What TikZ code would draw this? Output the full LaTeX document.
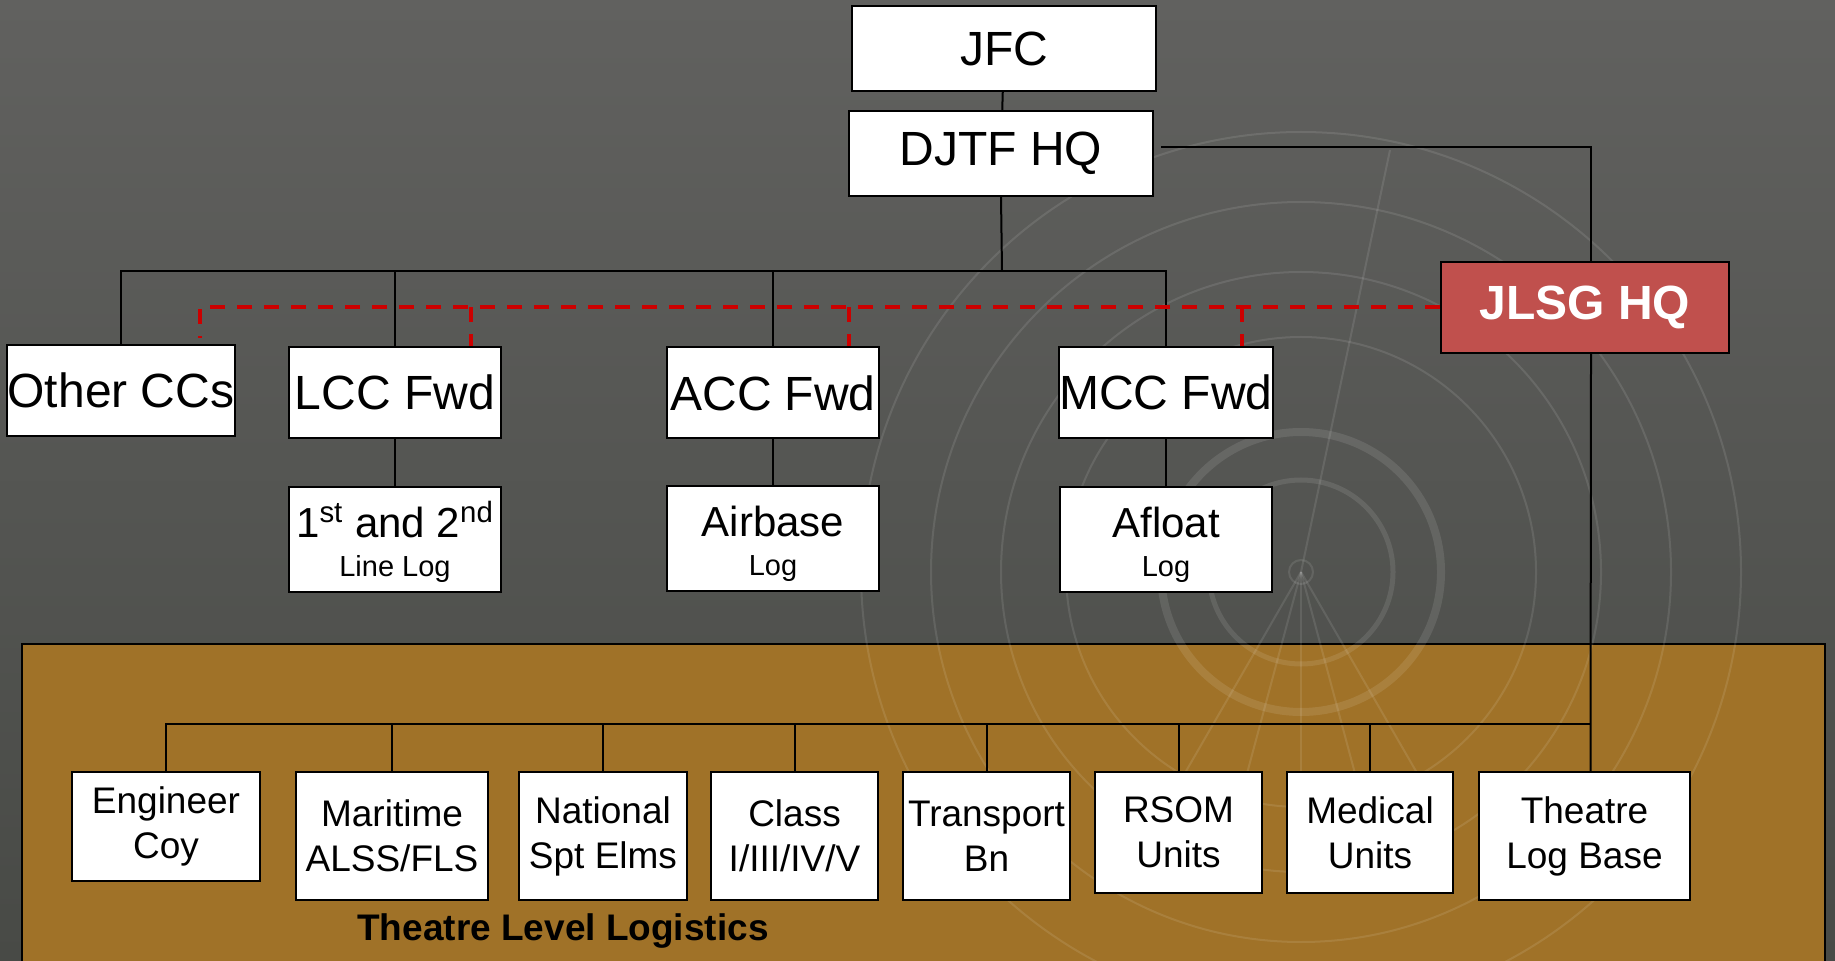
\documentclass[tikz,border=0pt]{standalone}
\usepackage{fontspec}
\setmainfont{Liberation Sans}
\definecolor{jlsgred}{RGB}{192,80,77}
\definecolor{dashred}{RGB}{204,0,0}
\definecolor{panelbrown}{RGB}{160,114,40}
\definecolor{bgtop}{RGB}{97,97,95}
\definecolor{bgbottom}{RGB}{72,74,70}
\usetikzlibrary{positioning,calc}

\begin{document}
\begin{tikzpicture}[x=0.5pt,y=-0.5pt,
  cmdbox/.style={draw=black,fill=white,line width=1pt,inner sep=0pt,align=center,
    minimum width=#1,minimum height=45.5pt,font=\fontsize{24}{28}\selectfont},
  cmdbox/.default=106pt,
  logbox/.style={draw=black,fill=white,line width=1pt,inner sep=0pt,align=center,
    minimum width=106pt,minimum height=52.5pt,font=\fontsize{21}{19.5}\selectfont},
  unitbox/.style={draw=black,fill=white,line width=1pt,inner sep=0pt,align=center,
    minimum width=#1,minimum height=64pt,font=\fontsize{18.5}{22.5}\selectfont},
  orgline/.style={draw=black,line width=1pt},
  dashline/.style={draw=dashred,line width=2pt,dash pattern=on 7.5pt off 6pt}
]
  \useasboundingbox (0,0) rectangle (1835,961);
  \shade[top color=bgtop,bottom color=bgbottom] (0,0) rectangle (1835,961);
  \draw[line width=1pt,fill=panelbrown] (22,644) rectangle (1825,990);

  \begin{scope}[draw=white,opacity=0.1]
    \draw[line width=4pt] (1301,572) circle (140);
    \draw[line width=2.5pt] (1301,572) circle (92);
    \draw[line width=1pt] (1301,572) circle (12);
    \foreach \r in {235,300,370,440} \draw[line width=1pt] (1301,572) circle (\r);
    \foreach \a in {60,75,90,105,120} \draw[line width=1pt] (1301,572) -- ++(\a:300);
    \draw[line width=1pt] (1301,572) -- (1390,150);
  \end{scope}

  \node[cmdbox=152pt,minimum height=42.5pt] (jfc) at (1004,48.5) {JFC};
  \node[cmdbox=152pt,minimum height=42.5pt] (djtf) at (1001,153.5) {DJTF HQ};
  \node[cmdbox=144pt,fill=jlsgred,text=white,font=\fontsize{24}{28}\selectfont\bfseries] (jlsg) at (1585,307.5) {JLSG HQ};
  \node[cmdbox=114pt] (other) at (121,390.5) {Other CCs};
  \node[cmdbox] (lcc) at (395,392.5) {LCC Fwd};
  \node[cmdbox] (acc) at (773,393) {ACC Fwd};
  \node[cmdbox] (mcc) at (1166,392.5) {MCC Fwd};
  \node[logbox] (linelog) at (395,539.5) {\rule{0pt}{21pt}1\textsuperscript{st} and 2\textsuperscript{nd}\\{\fontsize{14.5}{17}\selectfont Line Log}};
  \node[logbox] (airbase) at (773,538.5) {\rule{0pt}{21pt}Airbase\\{\fontsize{14.5}{17}\selectfont Log}};
  \node[logbox] (afloat) at (1166,539.5) {\rule{0pt}{21pt}Afloat\\{\fontsize{14.5}{17}\selectfont Log}};

  \node[unitbox=94pt,minimum height=54.5pt] (eng) at (166,826.5) {Engineer\\Coy};
  \node[unitbox=96pt] (mar) at (392,836) {Maritime\\ALSS/FLS};
  \node[unitbox=84pt] (nat) at (603,836) {National\\Spt Elms};
  \node[unitbox=83.5pt] (cls) at (794.5,836) {Class\\I/III/IV/V};
  \node[unitbox=83.5pt] (trn) at (986.5,836) {Transport\\Bn};
  \node[unitbox=83.5pt,minimum height=60.5pt] (rsom) at (1178.5,832.5) {RSOM\\Units};
  \node[unitbox=83pt,minimum height=60.5pt] (med) at (1370,832.5) {Medical\\Units};
  \node[unitbox=105.5pt] (tlb) at (1584.5,836) {Theatre\\Log Base};
  \node[anchor=base,font=\fontsize{18.5}{22}\selectfont\bfseries] (tll) at (563,940) {Theatre Level Logistics};

  \draw[orgline] (jfc) -- (djtf);
  \coordinate (cbus) at (1002,271);
  \draw[orgline] (djtf.south) -- (cbus);
  \draw[orgline] (other.north) |- (mcc.north |- cbus) -- (mcc.north);
  \foreach \n in {lcc,acc} \draw[orgline] (\n.north) -- (\n.north |- cbus);
  \foreach \n/\m in {lcc/linelog,acc/airbase,mcc/afloat} \draw[orgline] (\n) -- (\m);
  \draw[orgline] ([xshift=3.5pt,yshift=3.25pt]djtf.east) -| ([xshift=3pt]jlsg.north);
  \draw[orgline] ([xshift=3pt]jlsg.south) -- ([xshift=3pt]tlb.north);

  \coordinate (lbus) at (1591,724);
  \draw[orgline] (eng.north) |- (lbus);
  \foreach \n in {mar,nat,cls,trn,rsom,med} \draw[orgline] (\n.north) -- (\n.north |- lbus);

  \draw[dashline] (jlsg.west) -| ([xshift=39.5pt,yshift=3pt]other.north);
  \foreach \n in {lcc,acc,mcc} \draw[dashline] ([xshift=38pt]\n.north |- jlsg.west) -- ([xshift=38pt]\n.north);
\end{tikzpicture}
\end{document}
